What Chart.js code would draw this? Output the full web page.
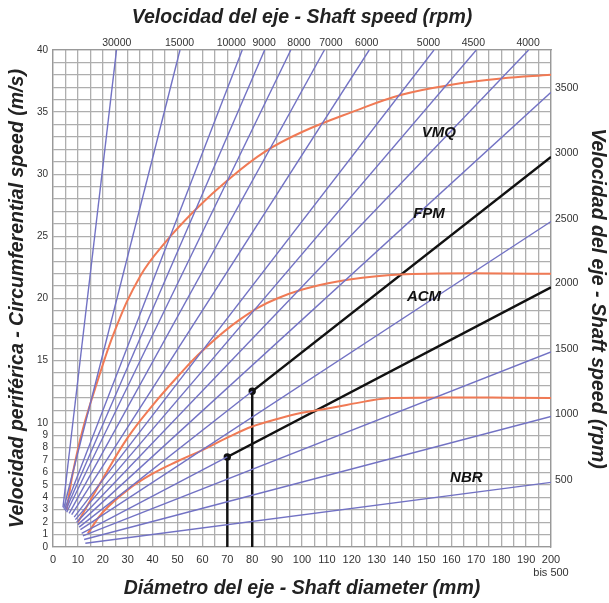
<!DOCTYPE html>
<html>
<head>
<meta charset="utf-8">
<script src="https://cdn.jsdelivr.net/npm/chart.js@4.4.0/dist/chart.umd.min.js"></script>
<style>
  body { margin: 0; background: #fff; }
  canvas { display: block; }
</style>
</head>
<body>
<canvas id="speedChart" width="609" height="603"></canvas>
<script>
// Shaft speed lines (rpm) - start and end points (mm, m/s)
// 3000 and 2000 rpm end where the black FPM / ACM lines take over
const rpmLabels = [30000, 15000, 10000, 9000, 8000, 7000, 6000, 5000, 4500, 4000, 3500, 3000, 2500, 2000, 1500, 1000, 500];
const lineStartD = [4, 4.3, 4.6, 5, 5.5, 6.5, 7.5, 8.5, 9, 9.5, 10, 10.5, 11, 11.5, 12, 12.5, 13];
const lineStartV = [3.2, 3.1, 3.0, 2.9, 2.8, 2.7, 2.6, 2.4, 2.2, 2.0, 1.8, 1.6, 1.4, 1.1, 0.9, 0.6, 0.3];
const lineEndD = [25.5, 51, 76, 85, 95.5, 109, 127, 153, 170, 191, 200, 80, 200, 70, 200, 200, 200];
const lineEndV = [40, 40, 40, 40, 40, 40, 40, 40, 40, 40, 36.6, 12.53, 26.2, 7.25, 15.7, 10.5, 5.2];

// rpm labels on top and right edges
const topLabels = ['30000', '15000', '10000', '9000', '8000', '7000', '6000', '5000', '4500', '4000'];
const topLabelD = [25.6, 50.8, 71.6, 84.8, 98.8, 111.6, 126, 150.8, 168.8, 190.8];
const rightLabels = ['3500', '3000', '2500', '2000', '1500', '1000', '500'];
const rightLabelV = [36.9, 31.7, 26.4, 21.2, 15.9, 10.7, 5.4];

// material limit curves
const vmqD = [5.5, 8, 12, 17, 25, 35, 45, 57.5, 70, 85, 100, 120, 140, 160, 180, 200];
const vmqV = [3, 6, 9.5, 12.8, 17.5, 21.8, 24.5, 27.2, 29.5, 31.8, 33.4, 35, 36.4, 37.2, 37.7, 38];
const fpmD = [10, 20, 30, 40, 50, 60, 75, 90, 110, 130, 150, 200];
const fpmV = [2, 5.5, 8.8, 11.4, 13.7, 15.8, 18.3, 20, 21.2, 21.8, 22, 22];
const acmD = [14, 20, 30, 40, 50, 60, 70, 80, 90, 100, 112, 125, 136, 200];
const acmV = [1.1, 2.8, 4.6, 5.9, 6.9, 7.8, 8.8, 9.7, 10.3, 10.8, 11.2, 11.7, 12, 12];

// highlighted black lines (continuing the 3000 and 2000 rpm lines)
const fpmLineD = [80, 80, 200];
const fpmLineV = [0, 12.53, 31.4];
const acmLineD = [70, 70, 200];
const acmLineV = [0, 7.25, 20.9];

// material names
const matNames = ['VMQ', 'FPM', 'ACM', 'NBR'];
const matD = [155, 151, 149, 166];
const matV = [33.3, 26.8, 20.1, 5.6];

const toPts = (xs, ys) => xs.map((x, i) => ({ x: x, y: ys[i] }));

const datasets = [];
rpmLabels.forEach((rpm, i) => {
    datasets.push({
        label: rpm + ' rpm',
        data: [{ x: lineStartD[i], y: lineStartV[i] }, { x: lineEndD[i], y: lineEndV[i] }],
        borderColor: '#7272c4',
        borderWidth: 1.4,
        pointRadius: 0,
        showLine: true
    });
});
[[vmqD, vmqV], [fpmD, fpmV], [acmD, acmV]].forEach(c => {
    datasets.push({
        data: toPts(c[0], c[1]),
        borderColor: '#f07a55',
        borderWidth: 2,
        pointRadius: 0,
        showLine: true,
        tension: 0.4
    });
});
[[fpmLineD, fpmLineV], [acmLineD, acmLineV]].forEach(c => {
    datasets.push({
        data: toPts(c[0], c[1]),
        borderColor: '#111',
        backgroundColor: '#111',
        borderWidth: 2.4,
        pointRadius: [0, 2.5, 0],
        showLine: true
    });
});

const titleFont = { family: "'Liberation Sans', Arial, sans-serif", size: 19.5, weight: 'bold', style: 'italic' };

// draws the material names inside the plot
const matLabels = {
    id: 'matLabels',
    afterDatasetsDraw(chart) {
        const c = chart.ctx;
        c.save();
        c.font = "italic bold 15px 'Liberation Sans', Arial, sans-serif";
        c.fillStyle = '#111';
        c.textAlign = 'center';
        c.textBaseline = 'middle';
        matNames.forEach((n, i) => {
            c.fillText(n, chart.scales.x.getPixelForValue(matD[i]), chart.scales.y.getPixelForValue(matV[i]));
        });
        c.restore();
    }
};

Chart.defaults.font.family = "'Liberation Sans', Arial, sans-serif";

new Chart(document.getElementById('speedChart'), {
    type: 'scatter',
    data: { datasets: datasets },
    options: {
        responsive: false,
        animation: false,
        layout: { padding: 0 },
        plugins: { legend: { display: false }, tooltip: { enabled: false } },
        scales: {
            x: {
                type: 'linear', position: 'bottom', min: 0, max: 200,
                ticks: {
                    stepSize: 5, autoSkip: false, maxRotation: 0, padding: 6,
                    color: '#333', font: { size: 11 },
                    callback: v => v % 10 === 0 ? (v === 200 ? ['200', 'bis 500'] : String(v)) : ''
                },
                grid: { color: '#aeaeae', lineWidth: 1.3, drawTicks: false },
                border: { color: '#999', width: 1.3 },
                title: { display: true, text: 'Diámetro del eje - Shaft diameter (mm)', font: titleFont, color: '#222', padding: { top: 0, bottom: 3 } },
                afterFit: s => { s.height = 56; s.paddingLeft = 0; s.paddingRight = 0; }
            },
            y: {
                type: 'linear', position: 'left', min: 0, max: 40,
                ticks: {
                    stepSize: 1, autoSkip: false, padding: 5,
                    color: '#333', font: { size: 10 },
                    callback: v => (v <= 10 || v % 5 === 0) ? String(v) : ''
                },
                grid: { color: '#aeaeae', lineWidth: 1.3, drawTicks: false },
                border: { color: '#999', width: 1.3 },
                title: { display: true, text: 'Velocidad periférica - Circumferential speed (m/s)', font: titleFont, color: '#222', padding: { top: 6, bottom: 0 } },
                afterFit: s => { s.width = 53; s.paddingTop = 0; s.paddingBottom = 0; }
            },
            x2: {
                type: 'linear', position: 'top', min: 0, max: 200,
                afterBuildTicks: s => { s.ticks = topLabelD.map(v => ({ value: v })); },
                ticks: {
                    autoSkip: false, maxRotation: 0, padding: 1,
                    color: '#333', font: { size: 10.5 },
                    callback: (v, i) => topLabels[i]
                },
                grid: { display: false, drawTicks: false },
                border: { color: '#999', width: 1.3 },
                title: { display: true, text: 'Velocidad del eje - Shaft speed (rpm)', font: titleFont, color: '#222', padding: { top: 6, bottom: 0 } },
                afterFit: s => { s.height = 50; s.paddingLeft = 0; s.paddingRight = 0; }
            },
            y2: {
                type: 'linear', position: 'right', min: 0, max: 40,
                afterBuildTicks: s => { s.ticks = rightLabelV.map(v => ({ value: v })); },
                ticks: {
                    autoSkip: false, padding: 4,
                    color: '#333', font: { size: 10.5 },
                    callback: (v, i) => rightLabels[i]
                },
                grid: { display: false, drawTicks: false },
                border: { color: '#999', width: 1.3 },
                title: { display: true, text: 'Velocidad del eje - Shaft speed (rpm)', font: titleFont, color: '#222', padding: { top: 0, bottom: 0 } },
                afterFit: s => { s.width = 58; s.paddingTop = 0; s.paddingBottom = 0; }
            }
        }
    },
    plugins: [matLabels]
});
</script>
</body>
</html>
